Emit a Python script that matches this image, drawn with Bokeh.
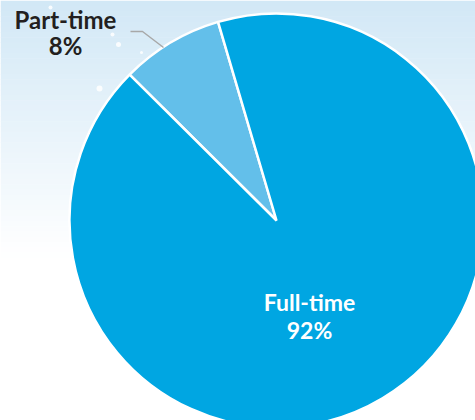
import numpy as np
from bokeh.plotting import figure
from bokeh.models import Range1d, ColumnDataSource
from bokeh.core.properties import value
from bokeh.embed import file_html
from bokeh.resources import INLINE

# ---- data ----
categories = ["Part-time", "Full-time"]
percents = [8, 92]
colors = ["#63bfea", "#00a6e2"]

# ---- layout constants ----
W, H = 475, 420
CX, CY, R = 276, 420 - 220, 207
START_DEG = 106.4  # where the first slice begins (counter-clockwise)

p = figure(width=W, height=H, output_backend="svg", toolbar_location=None,
           x_range=Range1d(0, W), y_range=Range1d(0, H), min_border=0)
p.axis.visible = False
p.grid.visible = False
p.outline_line_color = None
p.background_fill_color = "white"
p.border_fill_color = "white"

# background gradient (decoration)
n = 80
edges = np.linspace(H, 0, n + 1)
top = np.array([210, 232, 246])
cols = []
for i in range(n):
    d = (H - edges[i]) / 255.0
    t = min(d, 1.0)
    c = top + (np.array([255, 255, 255]) - top) * t
    cols.append("#%02x%02x%02x" % tuple(int(round(v)) for v in c))
p.quad(left=0, right=W, top=edges[:-1], bottom=edges[1:] - 0.5, fill_color=cols,
       line_color=None)

# sparkles (decoration)
p.scatter(x=[50, 112, 118, 141, 99], y=[H - 7, H - 34, H - 44, H - 52, H - 88],
          size=[4, 4, 5, 3, 6], marker="circle", fill_color="white",
          line_color=None, fill_alpha=0.85)

# pie
total = float(sum(percents))
cum = np.cumsum([0] + percents) / total * 2 * np.pi
start = np.deg2rad(START_DEG) + cum[:-1]
end = np.deg2rad(START_DEG) + cum[1:]
src = ColumnDataSource(dict(cat=categories, start=start, end=end, color=colors))
p.wedge(x=CX, y=CY, radius=R, start_angle="start", end_angle="end",
        fill_color="color", line_color="white", line_width=2.5, source=src)

# leader line for Part-time
p.line(x=[130, 142, 163], y=[H - 31, H - 31, H - 47], line_color="#a8a8a8",
       line_width=1.5)

# labels
font = value("Lato")
p.text(x=[65, 65], y=[H - 19, H - 45],
       text=[categories[0], "%d%%" % percents[0]],
       text_font=font, text_font_style="bold", text_font_size="24px",
       text_color="#231f20", text_align="center", text_baseline="middle")
p.text(x=[309, 309], y=[H - 301, H - 329],
       text=[categories[1], "%d%%" % percents[1]],
       text_font=font, text_font_style="bold", text_font_size="23px",
       text_color="white", text_align="center", text_baseline="middle")

open("out.html", "w").write(file_html(p, INLINE))
